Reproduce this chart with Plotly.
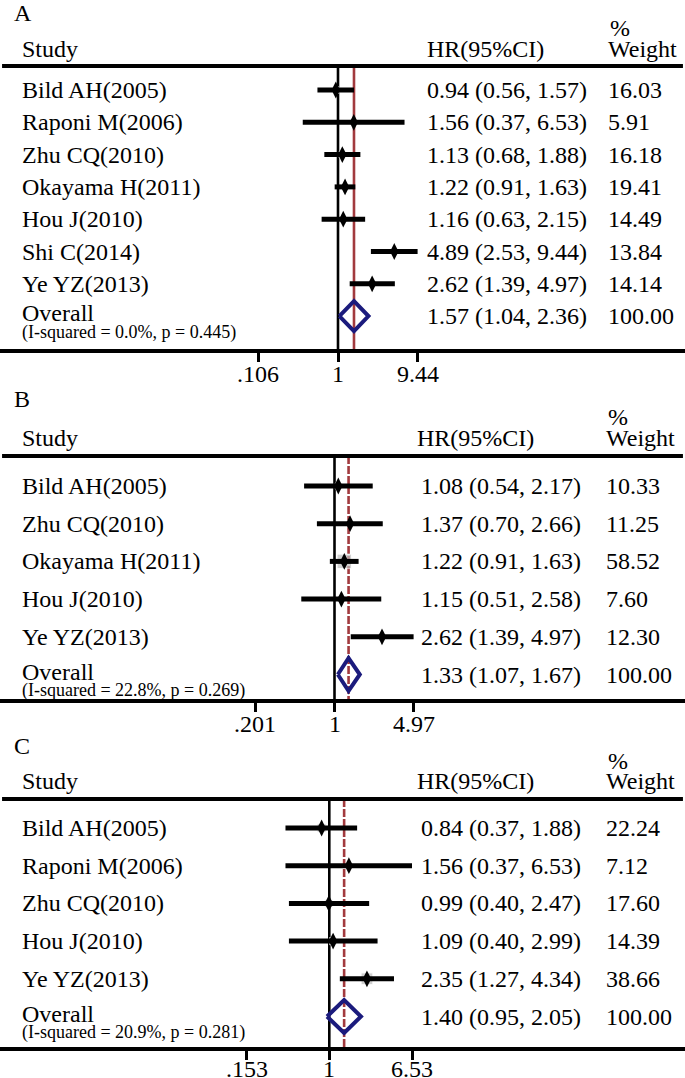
import plotly.graph_objects as go
import numpy as np

W, H = 685, 1078
FONT = "Liberation Serif"

# ---------------- data ----------------
studies_A = ["Bild AH(2005)", "Raponi M(2006)", "Zhu CQ(2010)", "Okayama H(2011)",
             "Hou J(2010)", "Shi C(2014)", "Ye YZ(2013)"]
hr_A = [0.94, 1.56, 1.13, 1.22, 1.16, 4.89, 2.62]
lo_A = [0.56, 0.37, 0.68, 0.91, 0.63, 2.53, 1.39]
hi_A = [1.57, 6.53, 1.88, 1.63, 2.15, 9.44, 4.97]
wt_A = [16.03, 5.91, 16.18, 19.41, 14.49, 13.84, 14.14]
overall_A = (1.57, 1.04, 2.36)
het_A = "(I-squared = 0.0%, p = 0.445)"
ticks_A = [0.106, 1, 9.44]
ticktext_A = [".106", "1", "9.44"]

studies_B = ["Bild AH(2005)", "Zhu CQ(2010)", "Okayama H(2011)", "Hou J(2010)", "Ye YZ(2013)"]
hr_B = [1.08, 1.37, 1.22, 1.15, 2.62]
lo_B = [0.54, 0.70, 0.91, 0.51, 1.39]
hi_B = [2.17, 2.66, 1.63, 2.58, 4.97]
wt_B = [10.33, 11.25, 58.52, 7.60, 12.30]
overall_B = (1.33, 1.07, 1.67)
het_B = "(I-squared = 22.8%, p = 0.269)"
ticks_B = [0.201, 1, 4.97]
ticktext_B = [".201", "1", "4.97"]

studies_C = ["Bild AH(2005)", "Raponi M(2006)", "Zhu CQ(2010)", "Hou J(2010)", "Ye YZ(2013)"]
hr_C = [0.84, 1.56, 0.99, 1.09, 2.35]
lo_C = [0.37, 0.37, 0.40, 0.40, 1.27]
hi_C = [1.88, 6.53, 2.47, 2.99, 4.34]
wt_C = [22.24, 7.12, 17.60, 14.39, 38.66]
overall_C = (1.40, 0.95, 2.05)
het_C = "(I-squared = 20.9%, p = 0.281)"
ticks_C = [0.153, 1, 6.53]
ticktext_C = [".153", "1", "6.53"]

# ---------------- layout params (pixels) ----------------
panels = [
    dict(letter="A", studies=studies_A, hr=hr_A, lo=lo_A, hi=hi_A, wt=wt_A, ov=overall_A, het=het_A,
         ticks=ticks_A, ticktext=ticktext_A, dash="solid",
         top=0, axis=349, letter_y=13, pct_y=28, head_y=49, line_y=66, row0=90, step=32.3, dh=15,
         x1=338, xhi=417.6, hr_x=425, hrh_x=425, wt_x=606, boxk=1.6, lab_dy=25),
    dict(letter="B", studies=studies_B, hr=hr_B, lo=lo_B, hi=hi_B, wt=wt_B, ov=overall_B, het=het_B,
         ticks=ticks_B, ticktext=ticktext_B, dash="8px,2px",
         top=376, axis=699, letter_y=399, pct_y=417, head_y=438, line_y=456, row0=486, step=37.7, dh=16.5,
         x1=334.5, xhi=413.6, hr_x=419, hrh_x=415, wt_x=604, boxk=1.9, lab_dy=25),
    dict(letter="C", studies=studies_C, hr=hr_C, lo=lo_C, hi=hi_C, wt=wt_C, ov=overall_C, het=het_C,
         ticks=ticks_C, ticktext=ticktext_C, dash="8px,2px",
         top=727, axis=1047, letter_y=746, pct_y=761, head_y=781, line_y=799, row0=828, step=37.7, dh=16.5,
         x1=329.3, xhi=412, hr_x=419, hrh_x=415, wt_x=604, boxk=1.9, lab_dy=22),
]

NAVY = "#1b1b7d"
RED = "#a23a3e"
GRAY = "#bdbdbd"

fig = go.Figure()
annotations = []
shapes = []
layout_axes = {}

for i, p in enumerate(panels):
    sfx = "" if i == 0 else str(i + 1)
    xa, ya = "x" + sfx, "y" + sfx
    n = len(p["studies"])
    rows = [p["row0"] + k * p["step"] for k in range(n)]
    ov_row = p["row0"] + n * p["step"]

    k = (p["xhi"] - p["x1"]) / np.log10(p["ticks"][-1])
    xr = [(0 - p["x1"]) / k, (W - p["x1"]) / k]

    layout_axes["xaxis" + sfx] = dict(
        type="log", range=xr, domain=[0, 1], anchor=ya,
        showgrid=False, zeroline=False, showline=True, linecolor="black", linewidth=4,
        ticks="outside", ticklen=9, tickwidth=3, tickcolor="black",
        tickvals=p["ticks"], showticklabels=False, fixedrange=True)
    layout_axes["yaxis" + sfx] = dict(
        range=[p["axis"], p["top"]], domain=[1 - p["axis"] / H, 1 - p["top"] / H], anchor=xa,
        visible=False, fixedrange=True)

    # reference line at 1
    fig.add_trace(go.Scatter(x=[1, 1], y=[p["line_y"], p["axis"]], mode="lines",
                             line=dict(color="black", width=2.6), xaxis=xa, yaxis=ya,
                             showlegend=False, hoverinfo="skip"))
    # overall effect line
    fig.add_trace(go.Scatter(x=[p["ov"][0]] * 2, y=[p["line_y"], p["axis"]], mode="lines",
                             line=dict(color=RED, width=2.6, dash=p["dash"]), xaxis=xa, yaxis=ya,
                             showlegend=False, hoverinfo="skip"))
    # weight boxes
    fig.add_trace(go.Scatter(x=p["hr"], y=rows, mode="markers",
                             marker=dict(symbol="square", color=GRAY,
                                         size=[p["boxk"] * np.sqrt(w) for w in p["wt"]]),
                             xaxis=xa, yaxis=ya, showlegend=False, hoverinfo="skip"))
    # CI lines
    for r, lo, hi in zip(rows, p["lo"], p["hi"]):
        fig.add_trace(go.Scatter(x=[lo, hi], y=[r, r], mode="lines",
                                 line=dict(color="black", width=5), xaxis=xa, yaxis=ya,
                                 showlegend=False, hoverinfo="skip"))
    # point estimates
    fig.add_trace(go.Scatter(x=p["hr"], y=rows, mode="markers",
                             marker=dict(symbol="diamond-tall", color="black", size=12),
                             xaxis=xa, yaxis=ya, showlegend=False, hoverinfo="skip"))
    # overall diamond
    e, l, h = p["ov"]
    fig.add_trace(go.Scatter(x=[l, e, h, e, l], y=[ov_row, ov_row - p["dh"], ov_row, ov_row + p["dh"], ov_row],
                             mode="lines", line=dict(color=NAVY, width=4), xaxis=xa, yaxis=ya,
                             showlegend=False, hoverinfo="skip"))

    # header line
    shapes.append(dict(type="line", xref="paper", yref=ya, x0=0.003, x1=0.997,
                       y0=p["line_y"], y1=p["line_y"], line=dict(color="black", width=4)))

    def txt(x, y, s, size=24):
        annotations.append(dict(xref="paper", yref=ya, x=x / W, y=y, text=s, showarrow=False,
                                xanchor="left", yanchor="middle",
                                font=dict(family=FONT, size=size, color="black")))

    # tick labels placed on the axis scale (x on the log axis, y below the axis line)
    for tv, tt in zip(p["ticks"], p["ticktext"]):
        annotations.append(dict(xref=xa, yref="paper", x=np.log10(tv),
                                y=1 - (p["axis"] + p["lab_dy"]) / H,
                                text=tt, showarrow=False, xanchor="center", yanchor="middle",
                                font=dict(family=FONT, size=24, color="black")))

    txt(12, p["letter_y"], p["letter"])
    txt(p["wt_x"] + 2, p["pct_y"], "%")
    txt(20, p["head_y"], "Study")
    txt(p["hrh_x"], p["head_y"], "HR(95%CI)")
    txt(p["wt_x"], p["head_y"], "Weight")
    for r, name, hr, lo, hi, w in zip(rows, p["studies"], p["hr"], p["lo"], p["hi"], p["wt"]):
        txt(20, r, name)
        txt(p["hr_x"], r, f"{hr:.2f} ({lo:.2f}, {hi:.2f})")
        txt(p["wt_x"], r, f"{w:.2f}")
    txt(20, ov_row - 3, "Overall")
    txt(20, ov_row + 16, p["het"], size=18)
    txt(p["hr_x"], ov_row, f"{e:.2f} ({l:.2f}, {h:.2f})")
    txt(p["wt_x"], ov_row, f"{100:.2f}")

fig.update_layout(width=W, height=H, margin=dict(l=0, r=0, t=0, b=0),
                  paper_bgcolor="white", plot_bgcolor="white",
                  annotations=annotations, shapes=shapes, **layout_axes)

fig.write_html("out.html", config={"displayModeBar": False},
               post_script="document.body.style.margin='0';document.body.style.overflow='hidden';")
